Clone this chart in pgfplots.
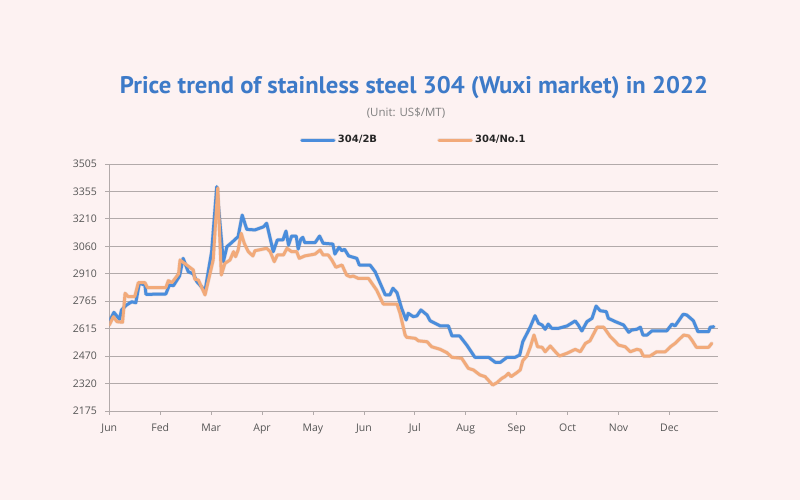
\documentclass[border=0pt]{standalone}
\usepackage{fontspec}
\setmainfont{Open Sans}
\newfontfamily\titlefont{PT Sans}
\newfontfamily\legfont{DejaVu Sans}
\usepackage{pgfplots}
\pgfplotsset{compat=1.18}
\definecolor{bg}{RGB}{253,242,242}
\definecolor{titleblue}{RGB}{61,122,200}
\definecolor{lineblue}{RGB}{74,141,220}
\definecolor{lineorange}{RGB}{242,170,122}
\definecolor{gridgray}{RGB}{178,170,170}
\definecolor{ticktext}{RGB}{85,85,85}
\begin{document}
\begin{tikzpicture}[x=1pt,y=1pt]
\fill[bg] (0,0) rectangle (800,500);
\useasboundingbox (0,0) rectangle (800,500);
\node[anchor=base, text=titleblue, font=\fontsize{24}{28}\selectfont\titlefont\bfseries, inner sep=0pt] at (414,406) {\resizebox{588pt}{\height}{Price trend of stainless steel 304 (Wuxi market) in 2022}};
\node[anchor=base, text=black!50, font=\fontsize{11.5}{13}\selectfont, inner sep=0pt] at (406,383) {(Unit: US\$/MT)};
\begin{axis}[
 at={(109.3pt,89pt)}, anchor=south west,
 scale only axis, width=609pt, height=247pt,
 xmin=0, xmax=11.96, ymin=2175, ymax=3505,
 axis lines=left, axis line style={-, gridgray, line width=0.8pt},
 xtick={0,1,2,3,4,5,6,7,8,9,10,11},
 xticklabels={Jun,Fed,Mar,Apr,May,Jun,Jul,Aug,Sep,Oct,Nov,Dec},
 ytick={2175,2322.78,2470.56,2618.33,2766.11,2913.89,3061.67,3209.44,3357.22,3505},
 yticklabels={2175,2320,2470,2615,2765,2910,3060,3210,3355,3505},
 ymajorgrids, grid style={gridgray, line width=0.8pt},
 tick align=outside, major tick length=4pt,
 tick style={gridgray, line width=0.8pt},
 /pgf/number format/assume math mode=true,
 ticklabel style={font=\fontsize{10.5}{12}\selectfont, text=ticktext},
 yticklabel style={xshift=-5pt},
 xticklabel style={yshift=-5pt},
 legend style={at={(0.5,1.097)}, anchor=center, draw=none, fill=none,
   legend columns=2, font=\fontsize{10}{12}\selectfont\legfont\bfseries, text=black!85,
   /tikz/every even column/.append style={column sep=58pt}},
 legend image code/.code={\draw[#1, line width=3pt, line cap=round] (0pt,0pt) -- (32pt,0pt);},
 every axis plot/.append style={line width=3pt, line join=round, line cap=round},
]
\addplot[lineblue, preaction={draw=lineblue!60!black, line width=4pt, opacity=0.15}] coordinates {
(0.00,2656) (0.09,2706) (0.20,2669) (0.24,2719) (0.34,2746) (0.44,2763) (0.52,2758)
(0.59,2863) (0.70,2853) (0.72,2803) (1.11,2805) (1.18,2853) (1.26,2850) (1.38,2902)
(1.45,2997) (1.55,2925) (1.65,2913) (1.72,2871) (1.88,2823) (2.01,3033) (2.11,3383)
(2.24,2979) (2.31,3060) (2.40,3081) (2.53,3114) (2.61,3230) (2.70,3153) (2.86,3150)
(3.03,3167) (3.09,3186) (3.22,3033) (3.30,3096) (3.41,3096) (3.47,3144) (3.52,3069)
(3.58,3117) (3.67,3117) (3.71,3047) (3.76,3100) (3.80,3110) (3.84,3081) (4.04,3081)
(4.13,3117) (4.20,3078) (4.39,3074) (4.43,3020) (4.51,3056) (4.57,3038) (4.62,3046)
(4.70,3010) (4.86,2997) (4.91,2961) (5.12,2961) (5.22,2925) (5.42,2800) (5.51,2800)
(5.57,2836) (5.65,2812) (5.74,2728) (5.83,2665) (5.87,2701) (5.97,2683) (6.04,2687)
(6.12,2719) (6.24,2692) (6.30,2661) (6.50,2633) (6.66,2633) (6.73,2579) (6.88,2579)
(7.02,2530) (7.18,2464) (7.45,2464) (7.58,2437) (7.68,2437) (7.81,2464) (7.97,2464)
(8.06,2477) (8.12,2548) (8.27,2629) (8.36,2688) (8.43,2647) (8.50,2638) (8.56,2615)
(8.62,2643) (8.69,2620) (8.82,2620) (8.99,2633) (9.15,2660) (9.21,2638) (9.28,2606)
(9.38,2656) (9.48,2674) (9.56,2740) (9.64,2715) (9.76,2710) (9.80,2674) (9.94,2656)
(10.10,2638) (10.20,2599) (10.26,2611) (10.36,2615) (10.43,2626) (10.48,2584) (10.56,2584)
(10.66,2607) (10.95,2607) (11.05,2643) (11.11,2633) (11.27,2696) (11.34,2692) (11.47,2661)
(11.56,2602) (11.77,2602) (11.80,2626) (11.87,2629)
};
\addlegendentry{304/2B}
\addplot[lineorange, preaction={draw=lineorange!60!black, line width=4pt, opacity=0.12}] coordinates {
(0.00,2638) (0.08,2683) (0.15,2656) (0.26,2653) (0.31,2809) (0.37,2791) (0.50,2791)
(0.57,2866) (0.70,2866) (0.75,2839) (1.11,2839) (1.16,2877) (1.23,2866) (1.36,2913)
(1.39,2988) (1.65,2934) (1.68,2884) (1.75,2880) (1.88,2800) (2.04,2988) (2.13,3376)
(2.20,2907) (2.27,2970) (2.37,2988) (2.44,3033) (2.48,3006) (2.53,3042) (2.59,3132)
(2.65,3078) (2.73,3033) (2.82,3010) (2.86,3038) (3.09,3051) (3.16,3033) (3.24,2979)
(3.30,3015) (3.42,3015) (3.49,3051) (3.58,3033) (3.68,3033) (3.73,2997) (3.84,3010)
(4.04,3020) (4.14,3042) (4.20,3015) (4.30,3015) (4.37,2988) (4.45,2949) (4.57,2961)
(4.66,2907) (4.73,2898) (4.79,2902) (4.89,2889) (5.09,2889) (5.25,2826) (5.38,2751)
(5.65,2751) (5.71,2701) (5.81,2584) (5.84,2572) (6.01,2566) (6.07,2553) (6.24,2548)
(6.33,2521) (6.50,2507) (6.63,2489) (6.73,2464) (6.92,2459) (7.05,2405) (7.15,2396)
(7.28,2369) (7.38,2360) (7.53,2315) (7.61,2327) (7.71,2351) (7.77,2360) (7.84,2378)
(7.89,2360) (8.00,2381) (8.07,2396) (8.12,2446) (8.20,2471) (8.27,2521) (8.34,2584)
(8.41,2521) (8.50,2518) (8.56,2494) (8.66,2525) (8.76,2494) (8.84,2471) (8.99,2486)
(9.15,2507) (9.25,2494) (9.35,2539) (9.44,2553) (9.58,2626) (9.71,2626) (9.84,2575)
(9.94,2548) (10.00,2530) (10.13,2521) (10.23,2494) (10.36,2507) (10.43,2503) (10.49,2471)
(10.62,2471) (10.75,2494) (10.92,2494) (11.02,2521) (11.11,2539) (11.28,2584) (11.38,2579)
(11.44,2557) (11.53,2518) (11.77,2518) (11.83,2539)
};
\addlegendentry{304/No.1}
\end{axis}
\end{tikzpicture}
\end{document}
